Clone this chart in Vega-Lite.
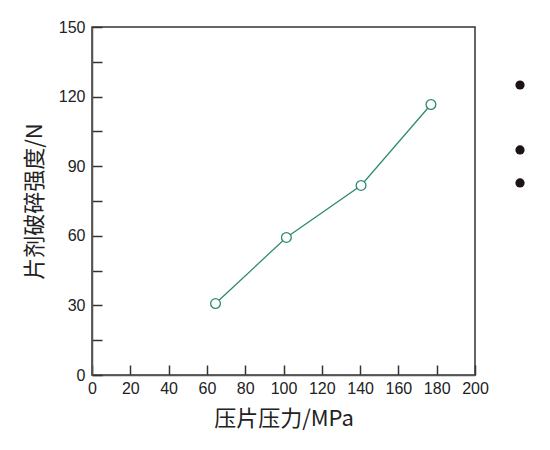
{
  "$schema": "https://vega.github.io/schema/vega-lite/v6.json",
  "width": 383,
  "height": 348,
  "autosize": {"type": "none"},
  "padding": {"left": 92, "top": 27, "right": 75, "bottom": 75},
  "background": "white",
  "config": {
    "view": {"stroke": "#333", "strokeWidth": 1.5},
    "axis": {
      "grid": false,
      "domainColor": "#555",
      "domainWidth": 1.5,
      "tickColor": "#333",
      "tickWidth": 1.5,
      "tickSize": -10,
      "labelFont": "Liberation Sans",
      "labelFontSize": 16,
      "labelColor": "#222",
      "titleFont": "Noto Sans CJK SC",
      "titleFontSize": 22,
      "titleFontWeight": "normal",
      "titleColor": "#222"
    }
  },
  "data": {"values": [
    {"pressure": 64.5, "strength": 30.8},
    {"pressure": 101.5, "strength": 59.3},
    {"pressure": 140.5, "strength": 81.7},
    {"pressure": 177, "strength": 116.6}
  ]},
  "encoding": {
    "x": {"field": "pressure", "type": "quantitative", "title": "压片压力/MPa",
      "scale": {"domain": [0, 200], "nice": false},
      "axis": {"values": [0, 20, 40, 60, 80, 100, 120, 140, 160, 180, 200], "labelOverlap": false, "labelFlush": false, "labelPadding": 15, "titlePadding": 12}},
    "y": {"field": "strength", "type": "quantitative", "title": "片剂破碎强度/N",
      "scale": {"domain": [0, 150], "nice": false},
      "axis": {"values": [0, 15, 30, 45, 60, 75, 90, 105, 120, 135, 150],
        "labelOverlap": false,
        "labelExpr": "datum.value % 30 == 0 ? datum.label : ''",
        "labelPadding": 17, "titlePadding": 12}}
  },
  "layer": [
    {
      "mark": {"type": "line", "color": "#2f8a72", "strokeWidth": 1.3}
    },
    {
      "mark": {"type": "point", "shape": "circle", "filled": false, "fill": "white", "color": "#2f8a72", "strokeWidth": 1.3, "size": 95, "opacity": 1}
    },
    {
      "data": {"values": [
        {"pressure": 223.5, "strength": 125},
        {"pressure": 223.5, "strength": 97},
        {"pressure": 223.5, "strength": 82.8}
      ]},
      "mark": {"type": "point", "shape": "circle", "filled": true, "color": "#1a1414", "size": 85, "opacity": 1, "clip": false}
    }
  ]
}
